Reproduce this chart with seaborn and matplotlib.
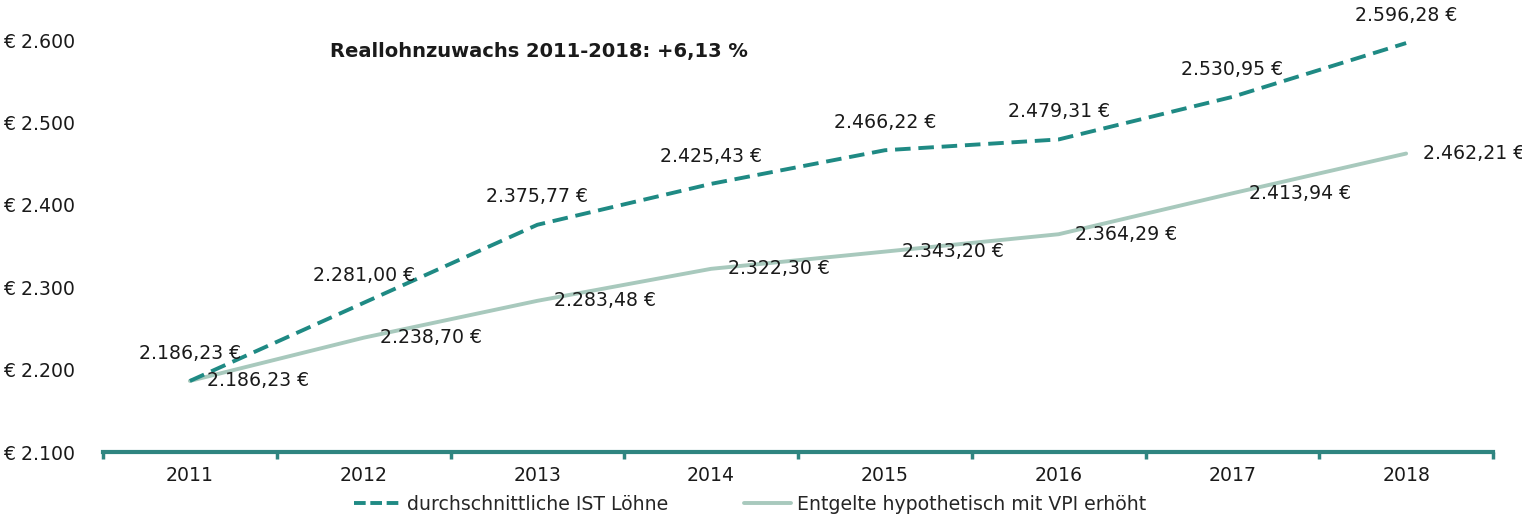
import matplotlib
matplotlib.use("Agg")
import matplotlib.pyplot as plt
import seaborn as sns
import pandas as pd
import numpy as np
from matplotlib.lines import Line2D

years = ["2011", "2012", "2013", "2014", "2015", "2016", "2017", "2018"]
ist_loehne = [2186.23, 2281.00, 2375.77, 2425.43, 2466.22, 2479.31, 2530.95, 2596.28]
vpi_erhoeht = [2186.23, 2238.70, 2283.48, 2322.30, 2343.20, 2364.29, 2413.94, 2462.21]
y_ticks = [2100, 2200, 2300, 2400, 2500, 2600]
series_names = ["durchschnittliche IST Löhne", "Entgelte hypothetisch mit VPI erhöht"]
title_text = "Reallohnzuwachs 2011-2018: +6,13 %"

TEAL = "#1f8a84"
SAGE = "#a8c9bd"
AXIS = "#2f8580"
FS = 13.6

sns.set_theme(style="white")
plt.rcParams["font.family"] = ["DejaVu Sans"]

def fmt(v):
    s = f"{v:,.2f}"
    s = s.replace(",", "X").replace(".", ",").replace("X", ".")
    return s + " €"

df = pd.DataFrame({
    "x": list(range(len(years))) * 2,
    "value": ist_loehne + vpi_erhoeht,
    "series": [series_names[0]] * len(years) + [series_names[1]] * len(years),
})

fig = plt.figure(figsize=(15.22, 5.17), dpi=100)
ax = fig.add_axes([103 / 1522, 65 / 517, 1390 / 1522, 412 / 517])

sns.lineplot(data=df[df.series == series_names[1]], x="x", y="value", ax=ax,
             color=SAGE, linewidth=2.8, legend=False)
sns.lineplot(data=df[df.series == series_names[0]], x="x", y="value", ax=ax,
             color=TEAL, linewidth=2.8, legend=False)
ax.lines[1].set_dashes((4, 2))

ax.set_xlim(-0.5, len(years) - 0.5)
ax.set_ylim(2100, 2600)

# labels
for i, v in enumerate(ist_loehne):
    ax.annotate(fmt(v), (i, v), xytext=(0, 20), textcoords="offset points",
                ha="center", va="center", fontsize=FS, color="#1a1a1a")
for i, v in enumerate(vpi_erhoeht):
    ax.annotate(fmt(v), (i, v), xytext=(12, 0), textcoords="offset points",
                ha="left", va="center", fontsize=FS, color="#1a1a1a")

ax.text(330 / 1522, 1 - 52 / 517, title_text, transform=fig.transFigure,
        ha="left", va="center", fontsize=14, fontweight="bold", color="#1a1a1a")

# axes styling
for s in ["top", "right", "left"]:
    ax.spines[s].set_visible(False)
ax.spines["bottom"].set_color(AXIS)
ax.spines["bottom"].set_linewidth(3)
ax.spines["bottom"].set_zorder(0.5)

ax.set_xticks(range(len(years)))
ax.set_xticklabels(years, fontsize=FS, color="#1a1a1a")
ax.set_xticks(np.arange(-0.5, len(years), 1.0), minor=True)
ax.tick_params(axis="x", which="major", bottom=True, length=0, pad=10)
ax.tick_params(axis="x", which="minor", bottom=True, length=5, width=2.5,
               color=AXIS, direction="out")

ax.set_yticks(y_ticks)
ax.set_yticklabels([f"€ {t:,}".replace(",", ".") for t in y_ticks], fontsize=FS,
                   color="#1a1a1a", ha="left")
ax.tick_params(axis="y", length=0, pad=72)
ax.set_xlabel("")
ax.set_ylabel("")
ax.grid(False)

handles = [Line2D([], [], color=TEAL, lw=2.8, dashes=(3, 1.2)),
           Line2D([], [], color=SAGE, lw=2.8)]
fig.legend(handles, series_names, loc="center", bbox_to_anchor=(750 / 1522, 1 - 504 / 517),
           ncol=2, frameon=False, fontsize=FS, handlelength=2.5, columnspacing=4,
           handletextpad=0.3)

fig.savefig("out.png", dpi=100)
